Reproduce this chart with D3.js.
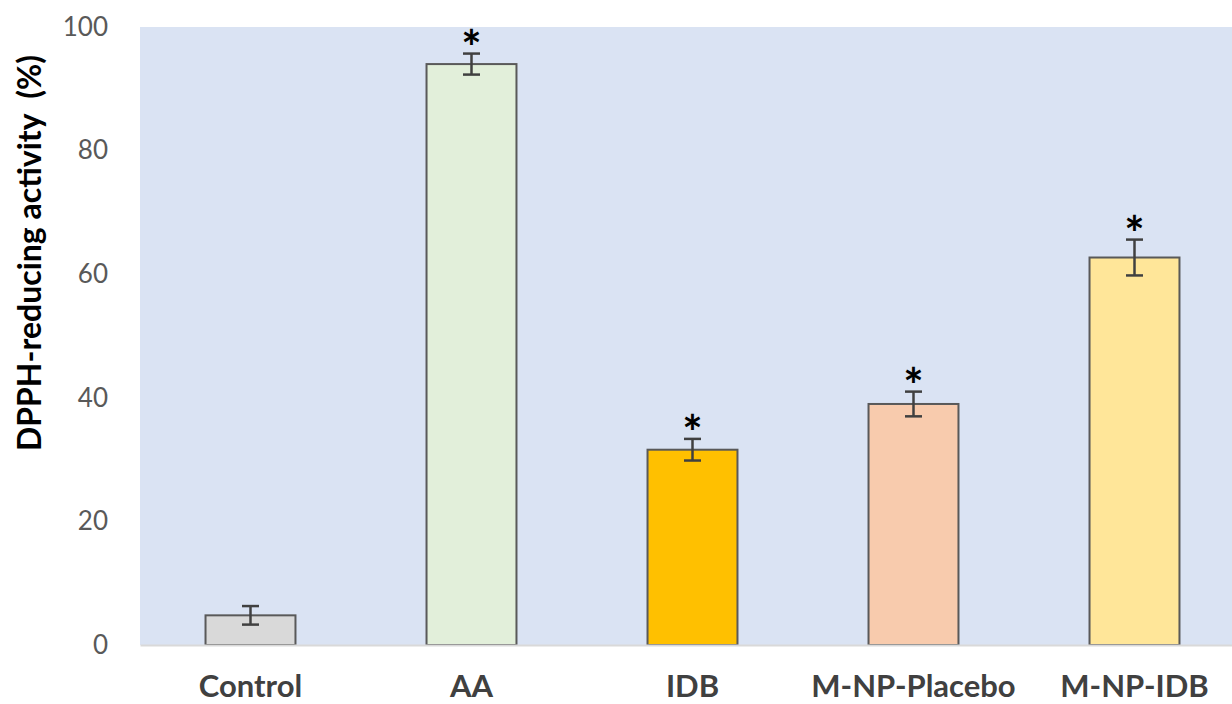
<!DOCTYPE html>
<html><head><meta charset="utf-8">
<script src="https://cdn.jsdelivr.net/npm/d3@7"></script>
<style>body{margin:0;background:#fff}svg{display:block}</style>
</head><body><div id="chart"></div>
<script>
const categories = ["Control", "AA", "IDB", "M-NP-Placebo", "M-NP-IDB"];
const values = [4.8, 94.0, 31.6, 39.0, 62.7];
const errors = [1.5, 1.7, 1.75, 2.0, 2.9];
const significant = [false, true, true, true, true];
const colors = ["#d9d9d9", "#e2efda", "#ffc000", "#f8cbad", "#ffe699"];
const yTicks = [0, 20, 40, 60, 80, 100];

const W = 1232, H = 704;
const svg = d3.select("#chart").append("svg").attr("width", W).attr("height", H);
const plot = {left: 140, right: 1245, top: 27, bottom: 645};

svg.append("rect").attr("x", plot.left).attr("y", plot.top)
  .attr("width", plot.right - plot.left).attr("height", plot.bottom - plot.top)
  .attr("fill", "#dae3f3");

const x = d3.scaleBand().domain(categories).range([plot.left, plot.right]).paddingInner(0.593).paddingOuter(0.2965);
const y = d3.scaleLinear().domain([0, 100]).range([plot.bottom, plot.top]);

// y axis labels
const yAxis = d3.axisLeft(y).tickValues(yTicks).tickSize(0).tickPadding(0);
const gy = svg.append("g").attr("transform", "translate(108,0)").call(yAxis);
gy.select(".domain").remove();
gy.selectAll("text").attr("font-family", "Lato, 'Open Sans', sans-serif").attr("font-size", 26).attr("fill", "#595959");

// bars
svg.selectAll("rect.bar").data(categories).enter().append("rect").attr("class", "bar")
  .attr("x", d => x(d)).attr("width", x.bandwidth())
  .attr("y", (d, i) => y(values[i])).attr("height", (d, i) => y(0) - y(values[i]))
  .attr("fill", (d, i) => colors[i]).attr("stroke", "#595959").attr("stroke-width", 2);

// x axis baseline
const xAxis = d3.axisBottom(x).tickSize(0).tickPadding(0);
const gx = svg.append("g").attr("transform", `translate(0,${plot.bottom})`).call(xAxis);
gx.select(".domain").attr("stroke", "#d9d9d9").attr("stroke-width", 2);
gx.selectAll("text").attr("dy", 0).attr("y", 52).attr("font-family", "Lato, 'Open Sans', sans-serif")
  .attr("font-weight", "bold").attr("font-size", 31).attr("fill", "#404040");

// error bars
const eb = svg.append("g").attr("stroke", "#404040").attr("stroke-width", 2.5);
categories.forEach((c, i) => {
  const cx = x(c) + x.bandwidth() / 2;
  const hi = y(values[i] + errors[i]), lo = y(values[i] - errors[i]);
  eb.append("line").attr("x1", cx).attr("x2", cx).attr("y1", hi).attr("y2", lo);
  eb.append("line").attr("x1", cx - 8.5).attr("x2", cx + 8.5).attr("y1", hi).attr("y2", hi);
  eb.append("line").attr("x1", cx - 8.5).attr("x2", cx + 8.5).attr("y1", lo).attr("y2", lo);
  if (significant[i]) {
    svg.append("text").attr("x", cx).attr("y", hi + 11).attr("text-anchor", "middle")
      .attr("font-family", "Lato, sans-serif").attr("font-weight", "bold").attr("font-size", 48)
      .attr("fill", "#000").text("*");
  }
});

// y title
svg.append("text").attr("transform", "translate(41,253) rotate(-90)").attr("text-anchor", "middle")
  .attr("font-family", "Lato, 'Open Sans', sans-serif").attr("font-weight", "bold").attr("font-size", 32)
  .attr("fill", "#000").style("white-space", "pre").text("DPPH-reducing activity  (%)");
</script></body></html>
